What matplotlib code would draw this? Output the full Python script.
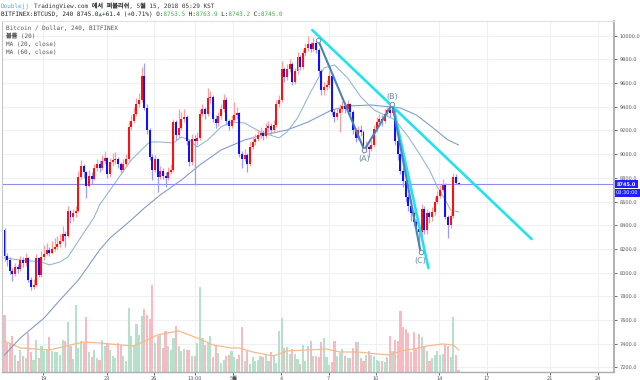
import matplotlib
matplotlib.use("Agg")
import matplotlib.pyplot as plt

plt.rcParams['font.family'] = ['DejaVu Sans', 'Noto Sans CJK KR']
plt.rcParams['text.hinting'] = 'no_hinting'
plt.rcParams['text.hinting_factor'] = 1

# ---------------- data ----------------
first_open = 8360.0
closes = [
    8140, 8110, 8010, 7990, 8050, 8030, 8110, 8080, 8120, 7940,
    7880, 7900, 8120, 7980, 8130, 8160, 8190, 8170, 8200, 8220,
    8240, 8270, 8330, 8310, 8520, 8470, 8500, 8520, 8810, 8900,
    8850, 8730, 8820, 8790, 8880, 8920, 8880, 8940, 8970, 8830,
    8930, 8950, 8960, 8920, 8870, 8920, 8960, 9230, 9280, 9340,
    9420, 9460, 9660, 9390, 9200, 8980, 8870, 8960, 8810, 8860,
    8820, 8800, 8850, 8870, 9270, 9160, 9220, 9300, 9310, 9110,
    8930, 9130, 9110, 9140, 9340, 9380, 9340, 9470, 9480, 9300,
    9260, 9320, 9380, 9460, 9280, 9240, 9290, 9330, 9350, 9000,
    8960, 8990, 8920, 9060, 9100, 9130, 9160, 9180, 9150, 9220,
    9240, 9200, 9250, 9420, 9460, 9720, 9650, 9720, 9760, 9610,
    9700, 9820, 9740, 9850, 9900, 9930, 9890, 9940, 9880, 9700,
    9540, 9570, 9580, 9660, 9360, 9310, 9350, 9380, 9410, 9380,
    9420, 9360, 9200, 9140, 9200, 9190, 9040, 9060, 9040, 9080,
    9210, 9270, 9300, 9280, 9340, 9370, 9350, 9390, 9110, 9000,
    8860, 8770, 8640, 8560, 8500, 8430, 8370, 8340, 8540, 8360,
    8500, 8470, 8510, 8600, 8650, 8700, 8740, 8470, 8400, 8480,
    8810, 8753.5, 8745.0]
highs = [
    8380, 8170, 8130, 8040, 8080, 8070, 8140, 8130, 8170, 8130,
    7960, 7950, 8160, 8130, 8180, 8230, 8250, 8220, 8270, 8290,
    8310, 8330, 8390, 8350, 8560, 8530, 8540, 8560, 8860, 8950,
    8920, 8860, 8870, 8850, 8920, 8960, 8950, 8990, 9030, 8980,
    8970, 9010, 9020, 8980, 8930, 8960, 9000, 9280, 9330, 9400,
    9470, 9520, 9740, 9770, 9420, 9220, 9000, 8990, 8970, 8900,
    8880, 8850, 8890, 8920, 9300, 9290, 9380, 9360, 9380, 9330,
    9130, 9170, 9160, 9190, 9380, 9420, 9400, 9560, 9530, 9500,
    9330, 9360, 9420, 9510, 9480, 9300, 9330, 9440, 9400, 9360,
    9030, 9040, 9010, 9100, 9150, 9170, 9200, 9230, 9200, 9260,
    9280, 9260, 9290, 9460, 9500, 9790, 9740, 9760, 9800, 9780,
    9730, 9860, 9840, 9890, 9940, 10000, 9950, 9990, 9960, 9900,
    9720, 9610, 9630, 9700, 9680, 9380, 9390, 9420, 9450, 9440,
    9460, 9430, 9370, 9220, 9240, 9250, 9200, 9110, 9080, 9120,
    9250, 9310, 9340, 9330, 9380, 9400, 9400, 9420, 9400, 9130,
    9010, 8890, 8790, 8660, 8590, 8520, 8450, 8390, 8580, 8560,
    8540, 8520, 8550, 8640, 8690, 8740, 8790, 8760, 8490, 8520,
    8840, 8830, 8763.9]
lows = [
    8100, 8060, 7990, 7930, 7970, 8000, 8010, 8050, 8060, 7920,
    7850, 7860, 7890, 7960, 7960, 8110, 8150, 8140, 8160, 8180,
    8200, 8220, 8260, 8220, 8300, 8420, 8440, 8470, 8510, 8790,
    8800, 8630, 8720, 8750, 8780, 8860, 8850, 8870, 8920, 8800,
    8810, 8900, 8920, 8880, 8840, 8850, 8900, 8940, 9200, 9260,
    9320, 9400, 9440, 9370, 9170, 8950, 8780, 8850, 8680, 8790,
    8790, 8720, 8780, 8830, 8850, 9120, 9140, 9200, 9270, 9080,
    8900, 8910, 8740, 9080, 9120, 9320, 9300, 9320, 9430, 9270,
    9220, 9240, 9300, 9360, 9250, 9200, 9220, 9280, 9300, 8980,
    8880, 8940, 8850, 8900, 9040, 9080, 9110, 9140, 9120, 9140,
    9190, 9170, 9180, 9230, 9400, 9440, 9610, 9630, 9690, 9580,
    9590, 9680, 9710, 9720, 9830, 9870, 9860, 9870, 9850, 9670,
    9500, 9500, 9540, 9560, 9330, 9270, 9290, 9190, 9360, 9350,
    9370, 9330, 9170, 9100, 9120, 9150, 9010, 9020, 8980, 9030,
    9060, 9190, 9250, 9240, 9260, 9320, 9310, 9330, 9080, 8950,
    8830, 8720, 8600, 8520, 8440, 8390, 8330, 8200, 8310, 8330,
    8330, 8420, 8440, 8490, 8580, 8630, 8680, 8450, 8290, 8380,
    8460, 8750, 8743.2]
volumes = [  # hundreds of BTC
    57, 29, 29, 36, 17, 11, 22, 16, 14, 39,
    20, 12, 32, 14, 26, 21, 22, 35, 21, 20,
    20, 17, 32, 31, 50, 26, 13, 67, 24, 31,
    29, 55, 20, 15, 22, 14, 12, 32, 26, 29,
    22, 16, 14, 29, 27, 16, 11, 64, 36, 27,
    48, 37, 56, 63, 57, 53, 87, 29, 36, 37,
    24, 41, 26, 22, 34, 46, 26, 21, 23, 22,
    22, 16, 16, 29, 85, 34, 27, 29, 36, 15,
    26, 19, 9, 12, 16,
    17, 21, 15, 13, 17, 45, 11, 21, 8, 15,
    11, 12, 16, 15, 17, 11, 20, 17, 9, 41,
    54, 24, 25, 18, 23, 18, 13, 8, 27, 11,
    26, 31, 16, 16, 15, 30, 34, 15, 7, 10,
    31, 16, 19, 23, 16, 14, 14, 24, 30, 30,
    14, 11, 17, 21, 17, 16, 12, 11, 11, 10,
    15, 36, 21, 32, 31, 61, 45, 43, 39, 20,
    40, 23, 38, 35, 26, 21, 11, 14, 17, 21,
    17, 18, 27, 26, 15, 55, 17, 2]
volma_idx = [0, 6, 17, 25, 30, 36, 44, 49, 54, 58, 62, 66, 69, 74, 79, 86, 89, 94, 102,
             107, 115, 122, 127, 134, 141, 146, 150, 155, 160, 166, 170, 172]
volma_val = [31, 24, 22, 27, 30, 29, 27, 26, 32, 37, 39, 41, 38, 33, 27, 24, 24, 20, 16,
             21, 22, 23, 20, 20, 18, 17, 21, 23, 26, 28, 27, 22]

ma20_idx = [0, 6, 14, 17, 21, 24, 29, 34, 36, 40, 44, 48, 53, 55, 59, 64, 67, 70, 73, 77,
            82, 86, 91, 97, 104, 107, 111, 116, 121, 125, 130, 135, 140, 148, 153, 157, 161,
            164, 167, 169, 172]
ma20_val = [8124, 8107, 8090, 8065, 8090, 8132, 8301, 8470, 8571, 8698, 8824, 8951, 9061,
            9103, 9103, 9094, 9145, 9120, 9061, 9120, 9229, 9272, 9263, 9187, 9137, 9187,
            9305, 9525, 9727, 9753, 9643, 9483, 9373, 9289, 9145, 9010, 8866, 8723, 8613,
            8529, 8512]
ma60_idx = [0, 6, 15, 21, 28, 36, 40, 48, 53, 59, 67, 74, 82, 91, 98, 107, 115, 124, 130,
            139, 150, 156, 161, 168, 172]
ma60_val = [7305, 7449, 7617, 7769, 7938, 8191, 8293, 8445, 8546, 8656, 8782, 8909, 9035,
            9120, 9162, 9204, 9272, 9373, 9407, 9415, 9390, 9331, 9246, 9120, 9078]

wave_idx = [118.8, 136.3, 146.9, 157.6]
wave_price = [9964, 9035, 9424, 8177]
wave_labels = ['', '(A)', '(B)', '(C)']
trend1_idx = [116.6, 199.7]
trend1_price = [10048, 8284]
trend2_idx = [147.3, 160.6]
trend2_price = [9398, 8039]

last_price = 8745.0
timer_text = '03:30:00'
price_ticks = list(range(7200, 10001, 200))
day_tick_idx = [14.75, 38.75, 56.75, 72, 86.75, 104.75, 122.75, 140.75, 164.75,
                182.75, 206.75, 224.75]
day_tick_labels = ['19', '23', '26', '13:00', '5월', '4', '7', '10', '14', '17', '21', '24']

legend_lines = ['Bitcoin / Dollar, 240, BITFINEX', '볼륨 (20)', 'MA (20, close)', 'MA (60, close)']
header_author = 'Doublejj'
header_rest = 'TradingView.com 에서 퍼블리쉬, 5월 15, 2018 05:29 KST'
# second header line: (text, is_green) pieces
quote_parts = [('BITFINEX:BTCUSD, 240 8745.0', False), ('▲', True), ('+61.4 (+0.71%) O:', False),
               ('8753.5', True), (' H:', False), ('8763.9', True), (' L:', False),
               ('8743.2', True), (' C:', False), ('8745.0', True)]

# ---------------- figure ----------------
W, H = 640, 380
fig = plt.figure(figsize=(6.4, 3.8), dpi=100)
fig.patch.set_facecolor('white')
rect = [2 / W, 8 / H, 612 / W, (372 - 20.7) / H]
axv = fig.add_axes(rect)
ax = fig.add_axes(rect, sharex=axv)
ax.patch.set_visible(False)

n = len(closes)
idx = list(range(n))
opens = [first_open] + closes[:-1]
up = [c >= o for o, c in zip(opens, closes)]

ax.set_ylim(7161.6, 10126.6)
axv.set_xlim(-0.95, 230.9)
axv.set_ylim(0, 351)

# grid (drawn on the back axes)
grid_c = '#edf1f5'
axv.hlines(price_ticks, 0, 1, transform=ax.get_yaxis_transform(), colors=grid_c, lw=0.8, zorder=0)
axv.vlines(day_tick_idx, 0, 1, transform=axv.get_xaxis_transform(), colors=grid_c, lw=0.8, zorder=0)

# volume
vcol = ['#b6e0c9' if u else '#f7bac1' for u in up]
axv.bar(idx, volumes, width=0.8, color=vcol, linewidth=0, zorder=1)
axv.plot(volma_idx, volma_val, color='#f8b98a', lw=0.9, zorder=2)
for s in axv.spines.values():
    s.set_visible(False)
axv.tick_params(left=False, labelleft=False, bottom=False, labelbottom=False)

# MA lines
ax.plot(ma60_idx, ma60_val, color='#7d97c7', lw=0.75, zorder=2)
ax.plot(ma20_idx, ma20_val, color='#8fb4d2', lw=0.75, zorder=2)

# candles
wick_c = ['#ff9c9c' if u else '#9c9cff' for u in up]
body_c = ['#ff1010' if u else '#1010ff' for u in up]
ax.vlines(idx, lows, highs, colors=wick_c, lw=0.9, zorder=3)
bottoms = [min(o, c) for o, c in zip(opens, closes)]
heights = [max(abs(c - o), 6) for o, c in zip(opens, closes)]
ax.bar(idx, heights, bottom=bottoms, width=0.75, color=body_c, linewidth=0, zorder=4)

# current price line
ax.axhline(last_price, color='#8c8cf2', lw=0.8, zorder=2.5)

# trend lines
ax.plot(trend1_idx, trend1_price, color='#22e2ee', lw=1.9, solid_capstyle='round', zorder=5)
ax.plot(trend2_idx, trend2_price, color='#22e2ee', lw=1.9, solid_capstyle='round', zorder=5)
ax.plot(wave_idx, wave_price, color='#4a83b5', lw=1.5, zorder=6,
        marker='o', ms=3.2, mfc='white', mec='#6f8fb0', mew=0.7)
offsets = {'(A)': -6.5, '(B)': 5.0, '(C)': -6.8}
for xi, yi, lab in zip(wave_idx, wave_price, wave_labels):
    if lab:
        ax.annotate(lab, (xi, yi), xytext=(0, offsets[lab]), textcoords='offset points',
                    ha='center', va='center', fontsize=5.8, color='#6f87a3', zorder=7)

# axes styling
ax.yaxis.tick_right()
ax.set_yticks(price_ticks)
ax.set_yticklabels([f'{p:.1f}' for p in price_ticks])
ax.set_xticks(day_tick_idx)
ax.set_xticklabels(day_tick_labels)
ax.tick_params(axis='y', length=2.5, width=0.6, labelsize=3.7, pad=1.5, colors='#555555')
ax.tick_params(axis='x', length=2, width=0.6, labelsize=3.7, pad=1, colors='#555555')
ax.spines['right'].set_color('#a9adb5')
ax.spines['right'].set_linewidth(1.3)
ax.spines['bottom'].set_color('#a9adb5')
ax.spines['bottom'].set_linewidth(1.0)
ax.spines['left'].set_color('#c4c7cc')
ax.spines['left'].set_linewidth(0.8)
ax.spines['top'].set_color('#dde0e4')
ax.spines['top'].set_linewidth(0.8)

# price label boxes
ax.annotate(f'{last_price:.1f}', xy=(1, last_price), xycoords=ax.get_yaxis_transform(),
            xytext=(2.0, 0), textcoords='offset points', ha='left', va='center',
            fontsize=3.6, color='white', fontweight='bold', annotation_clip=False,
            bbox=dict(boxstyle='square,pad=0.3', fc='#1f1fff', ec='none'), zorder=10)
ax.annotate(timer_text, xy=(1, last_price), xycoords=ax.get_yaxis_transform(),
            xytext=(1.5, -6.0), textcoords='offset points', ha='left', va='center',
            fontsize=3.6, color='white', annotation_clip=False,
            bbox=dict(boxstyle='square,pad=0.3', fc='#1f1fff', ec='none'), zorder=10)

# header text (monospace)
mono = ['DejaVu Sans Mono', 'Noto Sans CJK KR']
fs = 4.45
cw = 0.602 * fs * 100 / 72   # monospace advance, px
green = '#3fae49'
fig.text(1 / W, 1 - 5.7 / H, header_author, family=mono, fontsize=fs, color='#58a6dc', va='center')
fig.text((1 + (len(header_author) + 1) * cw) / W, 1 - 5.7 / H, header_rest, family=mono,
         fontsize=fs, color='#333333', va='center')
# colored pieces aligned by padding with spaces in the same monospace font
dark_str = ''.join(t if not g else ' ' * len(t) for t, g in quote_parts)
green_str = ''.join(t if g else ' ' * len(t) for t, g in quote_parts)
fig.text(1 / W, 1 - 14 / H, dark_str, family=mono, fontsize=fs, color='#222222', va='center')
fig.text(1 / W, 1 - 14 / H, green_str, family=mono, fontsize=fs, color=green, va='center')

for k, line in enumerate(legend_lines):
    fig.text(6 / W, 1 - (28.3 + 7.9 * k) / H, line, family=mono, fontsize=fs,
             color='#555555', va='center')

fig.savefig('out.png', dpi=100)
